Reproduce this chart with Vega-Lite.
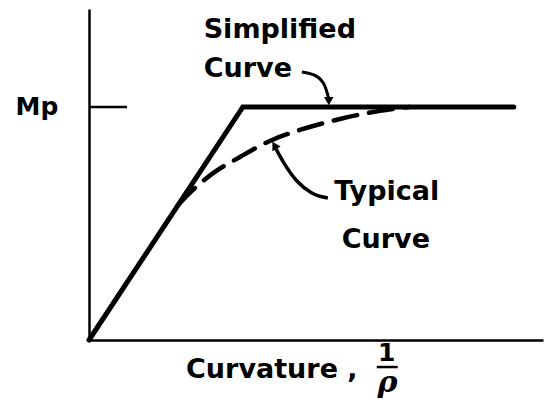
{
  "$schema": "https://vega.github.io/schema/vega-lite/v6.json",
  "width": 454,
  "height": 331,
  "autosize": {"type": "none"},
  "padding": {"left": 89, "top": 9, "right": 8, "bottom": 68},
  "background": "white",
  "config": {"view": {"stroke": null}},
  "datasets": {
    "simplified": [{"phi": 0, "m": 0}, {"phi": 1, "m": 1}, {"phi": 2.76, "m": 1}],
    "typical": [
      {"phi": 0.578, "m": 0.579}, {"phi": 0.688, "m": 0.652}, {"phi": 0.818, "m": 0.721},
      {"phi": 0.981, "m": 0.785}, {"phi": 1.175, "m": 0.854}, {"phi": 1.37, "m": 0.901},
      {"phi": 1.63, "m": 0.948}, {"phi": 1.89, "m": 0.983}, {"phi": 2.084, "m": 1.0}
    ],
    "arrow1": [
      {"phi": 1.383, "m": 1.15}, {"phi": 1.474, "m": 1.133}, {"phi": 1.532, "m": 1.09}, {"phi": 1.558, "m": 1.035}
    ],
    "arrow2": [
      {"phi": 1.552, "m": 0.609}, {"phi": 1.448, "m": 0.631}, {"phi": 1.351, "m": 0.682}, {"phi": 1.266, "m": 0.76}, {"phi": 1.215, "m": 0.82}
    ],
    "heads": [
      {"phi": 1.558, "m": 1.025, "angle": 180},
      {"phi": 1.205, "m": 0.835, "angle": -30}
    ],
    "labels": [
      {"phi": 1.24, "m": 1.33, "text": "Simplified"},
      {"phi": 1.032, "m": 1.163, "text": "Curve"},
      {"phi": 1.935, "m": 0.635, "text": "Typical"},
      {"phi": 1.929, "m": 0.429, "text": "Curve"},
      {"phi": 1.188, "m": -0.129, "text": "Curvature ,"}
    ],
    "small": [
      {"phi": 1.935, "m": -0.055, "text": "1"},
      {"phi": -0.338, "m": 1.0, "text": "Mp"}
    ],
    "rho": [{"phi": 1.94, "m": -0.185, "text": "ρ"}],
    "rules": [
      {"phi": 0, "phi2": 0.247, "m": 1.0},
      {"phi": 1.87, "phi2": 2.006, "m": -0.116}
    ]
  },
  "encoding": {
    "x": {"field": "phi", "type": "quantitative", "scale": {"domain": [0, 2.95], "nice": false, "zero": false},
      "axis": {"domain": true, "domainColor": "black", "domainWidth": 2.5, "ticks": false, "labels": false, "grid": false, "title": null}},
    "y": {"field": "m", "type": "quantitative", "scale": {"domain": [0, 1.42], "nice": false, "zero": false},
      "axis": {"domain": true, "domainColor": "black", "domainWidth": 2.5, "ticks": false, "labels": false, "grid": false, "title": null}}
  },
  "layer": [
    {"data": {"name": "simplified"}, "mark": {"type": "line", "color": "black", "strokeWidth": 5, "strokeJoin": "miter", "strokeCap": "round", "clip": false}},
    {"data": {"name": "typical"}, "mark": {"type": "line", "color": "black", "strokeWidth": 4.5, "strokeDash": [24, 12], "interpolate": "monotone", "strokeCap": "round"}},
    {"data": {"name": "arrow1"}, "mark": {"type": "line", "color": "black", "strokeWidth": 3, "interpolate": "monotone"}},
    {"data": {"name": "arrow2"}, "mark": {"type": "line", "color": "black", "strokeWidth": 3.5, "interpolate": "monotone"}},
    {"data": {"name": "heads"}, "mark": {"type": "point", "shape": "triangle-up", "filled": true, "color": "black", "size": 90, "opacity": 1},
      "encoding": {"angle": {"field": "angle", "type": "quantitative", "scale": null}}},
    {"data": {"name": "rules"}, "mark": {"type": "rule", "color": "black", "strokeWidth": 2.5, "clip": false},
      "encoding": {"x2": {"field": "phi2"}}},
    {"data": {"name": "labels"}, "mark": {"type": "text", "font": "DejaVu Sans", "fontWeight": "bold", "fontSize": 27, "align": "center", "baseline": "middle", "color": "black", "clip": false},
      "encoding": {"text": {"field": "text"}}},
    {"data": {"name": "small"}, "mark": {"type": "text", "font": "DejaVu Sans", "fontWeight": "bold", "fontSize": 25, "align": "center", "baseline": "middle", "color": "black", "clip": false},
      "encoding": {"text": {"field": "text"}}},
    {"data": {"name": "rho"}, "mark": {"type": "text", "font": "DejaVu Serif", "fontStyle": "italic", "fontWeight": "bold", "fontSize": 30, "align": "center", "baseline": "middle", "color": "black", "clip": false},
      "encoding": {"text": {"field": "text"}}}
  ]
}
